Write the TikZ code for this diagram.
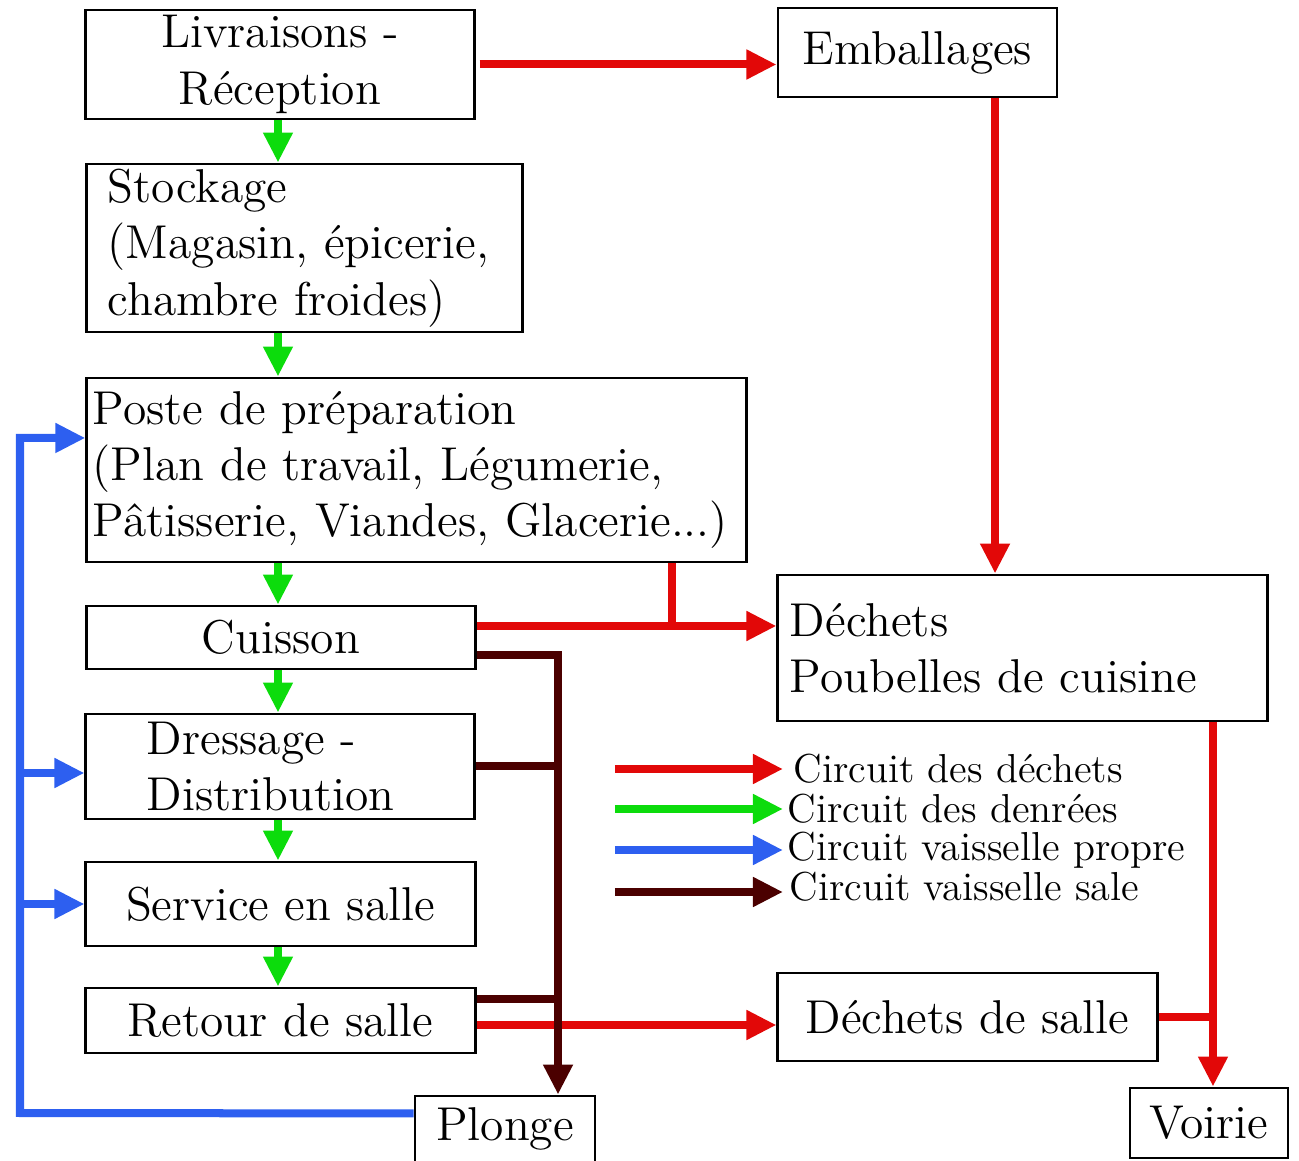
\documentclass[tikz,border=0pt]{standalone}
\usetikzlibrary{arrows.meta}

\definecolor{rougec}{RGB}{226,8,8}
\definecolor{vertc}{RGB}{12,220,12}
\definecolor{bleuc}{RGB}{45,95,240}
\definecolor{brunc}{RGB}{75,0,0}

\tikzset{
  boite/.style={draw, line width=0.8pt, inner sep=0pt, font=\fontsize{13.5}{16}\selectfont},
  legende/.style={inner sep=0pt, anchor=west, font=\fontsize{11.5}{13}\selectfont},
  flux/.style={line width=0.08cm},
  fl/.style={flux, -{Triangle[length=0.3cm,width=0.28cm]}},
  dechet/.style={fl, draw=rougec},
  dechetl/.style={flux, draw=rougec},
  denree/.style={fl, draw=vertc},
  propre/.style={fl, draw=bleuc},
  sale/.style={fl, draw=brunc},
  salel/.style={flux, draw=brunc}
}

\begin{document}
\begin{tikzpicture}[x=0.01cm, y=-0.01cm]
\useasboundingbox (0,0) rectangle (1299,1161);

% les postes
\node[boite, minimum width=3.88cm, minimum height=1.09cm, align=center] (livr) at (280,64.5) {Livraisons -\\Réception};
\node[boite, minimum width=4.35cm, minimum height=1.68cm, text width=3.93cm, align=left] (stock) at (304.5,248) {Stockage\\\mbox{(Magasin, épicerie,}\\\mbox{chambre froides)}};
\node[boite, minimum width=6.59cm, minimum height=1.84cm, text width=6.47cm, align=left] (poste) at (416.5,470) {Poste de préparation\\\mbox{(Plan de travail, Légumerie,}\\\mbox{Pâtisserie, Viandes, Glacerie...)}};
\node[boite, minimum width=3.88cm, minimum height=0.63cm] (cuis) at (281,637.5) {Cuisson};
\node[boite, minimum width=3.88cm, minimum height=1.05cm, text width=2.66cm, align=left] (dress) at (280,766.5) {Dressage -\\Distribution};
\node[boite, minimum width=3.89cm, minimum height=0.84cm] (serv) at (280.5,904) {Service en salle};
\node[boite, minimum width=3.89cm, minimum height=0.65cm] (ret) at (280.5,1020.5) {Retour de salle};
\node[boite, minimum width=1.80cm, minimum height=0.66cm] (plon) at (505,1129) {Plonge};

\node[boite, minimum width=2.79cm, minimum height=0.89cm] (emb) at (917.5,52.5) {Emballages};
\node[boite, minimum width=4.89cm, minimum height=1.46cm, text width=4.65cm, align=left] (dech) at (1022.5,648) {Déchets\\Poubelles de cuisine};
\node[boite, minimum width=3.79cm, minimum height=0.88cm] (dsal) at (967.5,1017) {Déchets de salle};
\node[boite, minimum width=1.58cm, minimum height=0.70cm] (voir) at (1209,1123) {Voirie};

% legende
\node[legende] (lg1) at (793,769) {Circuit des déchets};
\node[legende] (lg2) at (787,809) {Circuit des denrées};
\node[legende] (lg3) at (787,850) {Circuit vaisselle propre};
\node[legende] (lg4) at (789,887) {Circuit vaisselle sale};
\draw[dechet] ([xshift=-1.78cm]lg1.west) -- ([xshift=-0.1cm]lg1.west);
\draw[denree] ([xshift=-1.72cm]lg2.west) -- ([xshift=-0.04cm]lg2.west);
\draw[propre] ([xshift=-1.72cm]lg3.west) -- ([xshift=-0.04cm]lg3.west);
\draw[sale] ([xshift=-1.74cm,yshift=-0.05cm]lg4.west) -- ([xshift=-0.06cm,yshift=-0.05cm]lg4.west);

% circuit des denrees
\coordinate (g0) at ([xshift=-0.02cm]livr.south);
\draw[denree] (g0) -- (g0 |- stock.north);
\draw[denree] (g0 |- stock.south) -- (g0 |- poste.north);
\draw[denree] (g0 |- poste.south) -- (g0 |- cuis.north);
\foreach \a/\b in {cuis/dress, dress/serv, serv/ret}
  \draw[denree] (g0 |- \a.south) -- (g0 |- \b.north);

% circuit des dechets
\draw[dechet, shorten <=0.04cm] (livr.east) -- (livr.east -| emb.west);
\coordinate (e1) at ([xshift=0.775cm]emb.south);
\draw[dechet] (e1) -- (e1 |- dech.north);
\coordinate (c1) at ([yshift=0.115cm]cuis.east);
\draw[dechet] (c1) -- (c1 -| dech.west);
\coordinate (p1) at ([xshift=2.555cm]poste.south);
\draw[dechetl] (p1) -- (p1 |- c1);
\coordinate (r2) at ([yshift=-0.045cm]ret.east);
\draw[dechet] (r2) -- (r2 -| dsal.west);
\coordinate (v1) at ([xshift=0.04cm]voir.north);
\draw[dechet] (v1 |- dech.south) -- (v1);
\draw[dechetl] (dsal.east) -- (dsal.east -| v1);

% circuit vaisselle sale
\coordinate (pl) at ([xshift=0.53cm]plon.north);
\coordinate (c2) at ([yshift=-0.175cm]cuis.east);
\draw[sale] (c2) -| (pl);
\draw[salel] (dress.east) -- (dress.east -| pl);
\coordinate (r1) at ([yshift=0.215cm]ret.east);
\draw[salel] (r1) -- (r1 -| pl);

% circuit vaisselle propre
\coordinate (b0) at ([yshift=0.155cm]plon.west);
\coordinate (bg) at (20,1113);
\draw[propre] (b0) -- (bg) |- ([yshift=0.32cm]poste.west);
\coordinate (d1) at ([yshift=-0.065cm]dress.west);
\draw[propre] (bg |- d1) -- (d1);
\draw[propre] (bg |- serv.west) -- (serv.west);
\end{tikzpicture}
\end{document}
